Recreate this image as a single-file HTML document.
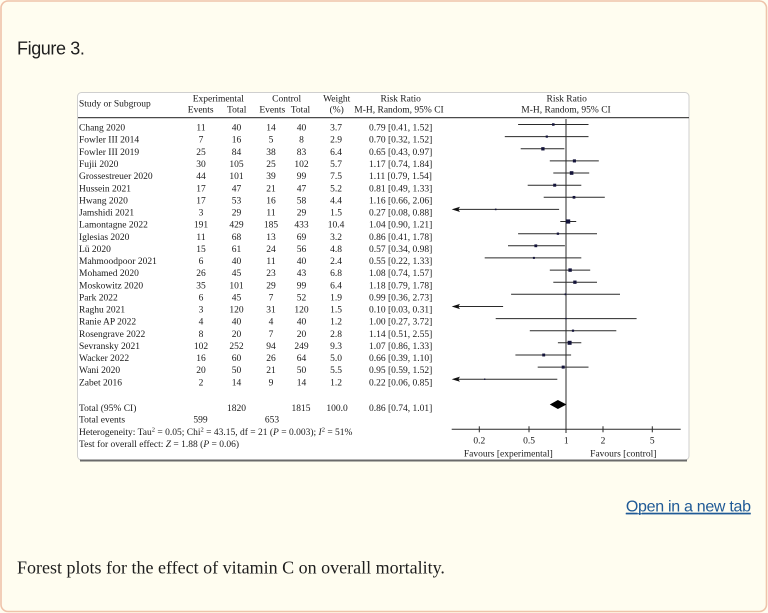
<!DOCTYPE html>
<html>
<head>
<meta charset="utf-8">
<style>
html,body{margin:0;padding:0;background:#fffdf0;}
body{width:768px;height:613px;overflow:hidden;position:relative;}
svg{position:absolute;left:0;top:0;}
</style>
</head>
<body>
<svg width="768" height="613" viewBox="0 0 768 613" xmlns="http://www.w3.org/2000/svg">
  <!-- outer card -->
  <rect x="1" y="1" width="765.5" height="610.5" rx="7" ry="7" fill="#fffdf0" stroke="#efc3aa" stroke-width="1.6"/>
  <text x="17" y="54.5" font-family="'Liberation Sans', sans-serif" font-size="18" letter-spacing="-0.4" fill="#1e1e1e">Figure 3.</text>

  <!-- inner figure frame -->
  <rect x="77.5" y="92.5" width="611.5" height="367.5" rx="4" ry="4" fill="#ffffff" stroke="#cfcfcf" stroke-width="1"/>
  <line x1="80" y1="460.5" x2="687" y2="460.5" stroke="#6a6a6a" stroke-width="2"/>
  <line x1="78" y1="117.6" x2="689" y2="117.6" stroke="#4a4a4a" stroke-width="1.2"/>

  <g font-family="'Liberation Serif', serif" font-size="9.5" fill="#1a1a1a">
    <!-- headers -->
    <text x="79" y="106.7">Study or Subgroup</text>
    <text x="218.3" y="101.7" text-anchor="middle">Experimental</text>
    <text x="200.7" y="112.7" text-anchor="middle">Events</text>
    <text x="236.7" y="112.7" text-anchor="middle">Total</text>
    <text x="286.7" y="101.7" text-anchor="middle">Control</text>
    <text x="272.3" y="112.7" text-anchor="middle">Events</text>
    <text x="300.5" y="112.7" text-anchor="middle">Total</text>
    <text x="336.7" y="101.7" text-anchor="middle">Weight</text>
    <text x="336.7" y="112.7" text-anchor="middle">(%)</text>
    <text x="400.7" y="101.7" text-anchor="middle">Risk Ratio</text>
    <text x="399" y="112.7" text-anchor="middle">M-H, Random, 95% CI</text>
    <text x="566.7" y="101.7" text-anchor="middle">Risk Ratio</text>
    <text x="566" y="112.7" text-anchor="middle">M-H, Random, 95% CI</text>

    <!-- study names -->
    <g>
      <text x="79" y="130.6">Chang 2020</text>
      <text x="79" y="142.7">Fowler III 2014</text>
      <text x="79" y="154.9">Fowler III 2019</text>
      <text x="79" y="167.0">Fujii 2020</text>
      <text x="79" y="179.1">Grossestreuer 2020</text>
      <text x="79" y="191.3">Hussein 2021</text>
      <text x="79" y="203.4">Hwang 2020</text>
      <text x="79" y="215.5">Jamshidi 2021</text>
      <text x="79" y="227.6">Lamontagne 2022</text>
      <text x="79" y="239.8">Iglesias 2020</text>
      <text x="79" y="251.9">Lü 2020</text>
      <text x="79" y="264.0">Mahmoodpoor 2021</text>
      <text x="79" y="276.2">Mohamed 2020</text>
      <text x="79" y="288.3">Moskowitz 2020</text>
      <text x="79" y="300.4">Park 2022</text>
      <text x="79" y="312.6">Raghu 2021</text>
      <text x="79" y="324.7">Ranie AP 2022</text>
      <text x="79" y="336.8">Rosengrave 2022</text>
      <text x="79" y="348.9">Sevransky 2021</text>
      <text x="79" y="361.1">Wacker 2022</text>
      <text x="79" y="373.2">Wani 2020</text>
      <text x="79" y="385.3">Zabet 2016</text>
    </g>

    <!-- experimental events -->
    <g text-anchor="middle">
      <text x="201" y="130.6">11</text>
      <text x="201" y="142.7">7</text>
      <text x="201" y="154.9">25</text>
      <text x="201" y="167.0">30</text>
      <text x="201" y="179.1">44</text>
      <text x="201" y="191.3">17</text>
      <text x="201" y="203.4">17</text>
      <text x="201" y="215.5">3</text>
      <text x="201" y="227.6">191</text>
      <text x="201" y="239.8">11</text>
      <text x="201" y="251.9">15</text>
      <text x="201" y="264.0">6</text>
      <text x="201" y="276.2">26</text>
      <text x="201" y="288.3">35</text>
      <text x="201" y="300.4">6</text>
      <text x="201" y="312.6">3</text>
      <text x="201" y="324.7">4</text>
      <text x="201" y="336.8">8</text>
      <text x="201" y="348.9">102</text>
      <text x="201" y="361.1">16</text>
      <text x="201" y="373.2">20</text>
      <text x="201" y="385.3">2</text>
    </g>
    <!-- experimental totals -->
    <g text-anchor="middle">
      <text x="236.5" y="130.6">40</text>
      <text x="236.5" y="142.7">16</text>
      <text x="236.5" y="154.9">84</text>
      <text x="236.5" y="167.0">105</text>
      <text x="236.5" y="179.1">101</text>
      <text x="236.5" y="191.3">47</text>
      <text x="236.5" y="203.4">53</text>
      <text x="236.5" y="215.5">29</text>
      <text x="236.5" y="227.6">429</text>
      <text x="236.5" y="239.8">68</text>
      <text x="236.5" y="251.9">61</text>
      <text x="236.5" y="264.0">40</text>
      <text x="236.5" y="276.2">45</text>
      <text x="236.5" y="288.3">101</text>
      <text x="236.5" y="300.4">45</text>
      <text x="236.5" y="312.6">120</text>
      <text x="236.5" y="324.7">40</text>
      <text x="236.5" y="336.8">20</text>
      <text x="236.5" y="348.9">252</text>
      <text x="236.5" y="361.1">60</text>
      <text x="236.5" y="373.2">50</text>
      <text x="236.5" y="385.3">14</text>
    </g>
    <!-- control events -->
    <g text-anchor="middle">
      <text x="271" y="130.6">14</text>
      <text x="271" y="142.7">5</text>
      <text x="271" y="154.9">38</text>
      <text x="271" y="167.0">25</text>
      <text x="271" y="179.1">39</text>
      <text x="271" y="191.3">21</text>
      <text x="271" y="203.4">16</text>
      <text x="271" y="215.5">11</text>
      <text x="271" y="227.6">185</text>
      <text x="271" y="239.8">13</text>
      <text x="271" y="251.9">24</text>
      <text x="271" y="264.0">11</text>
      <text x="271" y="276.2">23</text>
      <text x="271" y="288.3">29</text>
      <text x="271" y="300.4">7</text>
      <text x="271" y="312.6">31</text>
      <text x="271" y="324.7">4</text>
      <text x="271" y="336.8">7</text>
      <text x="271" y="348.9">94</text>
      <text x="271" y="361.1">26</text>
      <text x="271" y="373.2">21</text>
      <text x="271" y="385.3">9</text>
    </g>
    <!-- control totals -->
    <g text-anchor="middle">
      <text x="301.5" y="130.6">40</text>
      <text x="301.5" y="142.7">8</text>
      <text x="301.5" y="154.9">83</text>
      <text x="301.5" y="167.0">102</text>
      <text x="301.5" y="179.1">99</text>
      <text x="301.5" y="191.3">47</text>
      <text x="301.5" y="203.4">58</text>
      <text x="301.5" y="215.5">29</text>
      <text x="301.5" y="227.6">433</text>
      <text x="301.5" y="239.8">69</text>
      <text x="301.5" y="251.9">56</text>
      <text x="301.5" y="264.0">40</text>
      <text x="301.5" y="276.2">43</text>
      <text x="301.5" y="288.3">99</text>
      <text x="301.5" y="300.4">52</text>
      <text x="301.5" y="312.6">120</text>
      <text x="301.5" y="324.7">40</text>
      <text x="301.5" y="336.8">20</text>
      <text x="301.5" y="348.9">249</text>
      <text x="301.5" y="361.1">64</text>
      <text x="301.5" y="373.2">50</text>
      <text x="301.5" y="385.3">14</text>
    </g>
    <!-- weights -->
    <g text-anchor="middle">
      <text x="336" y="130.6">3.7</text>
      <text x="336" y="142.7">2.9</text>
      <text x="336" y="154.9">6.4</text>
      <text x="336" y="167.0">5.7</text>
      <text x="336" y="179.1">7.5</text>
      <text x="336" y="191.3">5.2</text>
      <text x="336" y="203.4">4.4</text>
      <text x="336" y="215.5">1.5</text>
      <text x="336" y="227.6">10.4</text>
      <text x="336" y="239.8">3.2</text>
      <text x="336" y="251.9">4.8</text>
      <text x="336" y="264.0">2.4</text>
      <text x="336" y="276.2">6.8</text>
      <text x="336" y="288.3">6.4</text>
      <text x="336" y="300.4">1.9</text>
      <text x="336" y="312.6">1.5</text>
      <text x="336" y="324.7">1.2</text>
      <text x="336" y="336.8">2.8</text>
      <text x="336" y="348.9">9.3</text>
      <text x="336" y="361.1">5.0</text>
      <text x="336" y="373.2">5.5</text>
      <text x="336" y="385.3">1.2</text>
    </g>
    <!-- risk ratios -->
    <g>
      <text x="369" y="130.6">0.79 [0.41, 1.52]</text>
      <text x="369" y="142.7">0.70 [0.32, 1.52]</text>
      <text x="369" y="154.9">0.65 [0.43, 0.97]</text>
      <text x="369" y="167.0">1.17 [0.74, 1.84]</text>
      <text x="369" y="179.1">1.11 [0.79, 1.54]</text>
      <text x="369" y="191.3">0.81 [0.49, 1.33]</text>
      <text x="369" y="203.4">1.16 [0.66, 2.06]</text>
      <text x="369" y="215.5">0.27 [0.08, 0.88]</text>
      <text x="369" y="227.6">1.04 [0.90, 1.21]</text>
      <text x="369" y="239.8">0.86 [0.41, 1.78]</text>
      <text x="369" y="251.9">0.57 [0.34, 0.98]</text>
      <text x="369" y="264.0">0.55 [0.22, 1.33]</text>
      <text x="369" y="276.2">1.08 [0.74, 1.57]</text>
      <text x="369" y="288.3">1.18 [0.79, 1.78]</text>
      <text x="369" y="300.4">0.99 [0.36, 2.73]</text>
      <text x="369" y="312.6">0.10 [0.03, 0.31]</text>
      <text x="369" y="324.7">1.00 [0.27, 3.72]</text>
      <text x="369" y="336.8">1.14 [0.51, 2.55]</text>
      <text x="369" y="348.9">1.07 [0.86, 1.33]</text>
      <text x="369" y="361.1">0.66 [0.39, 1.10]</text>
      <text x="369" y="373.2">0.95 [0.59, 1.52]</text>
      <text x="369" y="385.3">0.22 [0.06, 0.85]</text>
    </g>

    <!-- totals -->
    <text x="79" y="411">Total (95% CI)</text>
    <text x="236.5" y="411" text-anchor="middle">1820</text>
    <text x="301" y="411" text-anchor="middle">1815</text>
    <text x="337" y="411" text-anchor="middle">100.0</text>
    <text x="369" y="411">0.86 [0.74, 1.01]</text>
    <text x="79" y="422.5">Total events</text>
    <text x="200.5" y="422.5" text-anchor="middle">599</text>
    <text x="272" y="422.5" text-anchor="middle">653</text>
    <text x="79" y="435">Heterogeneity: Tau<tspan dy="-3.5" font-size="6.5">2</tspan><tspan dy="3.5"> = 0.05; Chi</tspan><tspan dy="-3.5" font-size="6.5">2</tspan><tspan dy="3.5"> = 43.15, df = 21 (</tspan><tspan font-style="italic">P</tspan><tspan> = 0.003); </tspan><tspan font-style="italic">I</tspan><tspan dy="-3.5" font-size="6.5">2</tspan><tspan dy="3.5"> = 51%</tspan></text>
    <text x="79" y="446.8">Test for overall effect: <tspan font-style="italic">Z</tspan> = 1.88 (<tspan font-style="italic">P</tspan> = 0.06)</text>

    <!-- axis labels -->
    <g text-anchor="middle">
      <text x="479.3" y="443.3">0.2</text>
      <text x="529" y="443.3">0.5</text>
      <text x="566.3" y="443.3">1</text>
      <text x="603" y="443.3">2</text>
      <text x="652.3" y="443.3">5</text>
      <text x="508.3" y="456.5">Favours [experimental]</text>
      <text x="623.3" y="456.5">Favours [control]</text>
    </g>
  </g>

  <!-- forest plot -->
  <g stroke="#2a2a2a" stroke-width="1" fill="none">
    <line x1="566" y1="119" x2="566" y2="433"/>
    <line x1="451.7" y1="429.3" x2="680.7" y2="429.3"/>
    <line x1="479.3" y1="426.3" x2="479.3" y2="432.3"/>
    <line x1="529" y1="426.3" x2="529" y2="432.3"/>
    <line x1="603" y1="426.3" x2="603" y2="432.3"/>
    <line x1="652.3" y1="426.3" x2="652.3" y2="432.3"/>

    <line x1="518.1" y1="124.5" x2="588.5" y2="124.5"/>
    <line x1="504.8" y1="136.6" x2="588.5" y2="136.6"/>
    <line x1="520.7" y1="148.8" x2="564.4" y2="148.8"/>
    <line x1="549.8" y1="160.9" x2="598.8" y2="160.9"/>
    <line x1="553.3" y1="173.0" x2="589.2" y2="173.0"/>
    <line x1="527.7" y1="185.2" x2="581.3" y2="185.2"/>
    <line x1="543.7" y1="197.3" x2="604.8" y2="197.3"/>
    <line x1="456" y1="209.4" x2="559.1" y2="209.4"/>
    <line x1="560.3" y1="221.5" x2="576.2" y2="221.5"/>
    <line x1="518.1" y1="233.7" x2="597.0" y2="233.7"/>
    <line x1="508.0" y1="245.8" x2="564.9" y2="245.8"/>
    <line x1="484.7" y1="257.9" x2="581.3" y2="257.9"/>
    <line x1="549.8" y1="270.1" x2="590.2" y2="270.1"/>
    <line x1="553.3" y1="282.2" x2="597.0" y2="282.2"/>
    <line x1="511.1" y1="294.3" x2="620.0" y2="294.3"/>
    <line x1="456" y1="306.5" x2="503.1" y2="306.5"/>
    <line x1="495.7" y1="318.6" x2="636.6" y2="318.6"/>
    <line x1="529.8" y1="330.7" x2="616.3" y2="330.7"/>
    <line x1="557.9" y1="342.8" x2="581.3" y2="342.8"/>
    <line x1="515.4" y1="355.0" x2="571.1" y2="355.0"/>
    <line x1="537.7" y1="367.1" x2="588.5" y2="367.1"/>
    <line x1="456" y1="379.2" x2="557.3" y2="379.2"/>
  </g>

  <!-- arrow heads -->
  <g fill="#111">
    <polygon points="451.7,209.4 460,206.8 458.3,209.4 460,212"/>
    <polygon points="451.7,306.5 460,303.9 458.3,306.5 460,309.1"/>
    <polygon points="451.7,379.2 460,376.6 458.3,379.2 460,381.8"/>
  </g>

  <!-- point estimate boxes -->
  <g fill="#14143a">
    <rect x="552.05" y="123.25" width="2.5" height="2.5"/>
    <rect x="545.7" y="135.5" width="2.2" height="2.2"/>
    <rect x="541.25" y="147.15" width="3.3" height="3.3"/>
    <rect x="572.85" y="159.35" width="3.1" height="3.1"/>
    <rect x="569.8" y="171.2" width="3.6" height="3.6"/>
    <rect x="553.2" y="183.7" width="3.0" height="3.0"/>
    <rect x="572.65" y="195.95" width="2.7" height="2.7"/>
    <rect x="494.9" y="208.6" width="1.6" height="1.6"/>
    <rect x="566.0" y="219.4" width="4.2" height="4.2"/>
    <rect x="556.75" y="232.55" width="2.3" height="2.3"/>
    <rect x="534.4" y="244.4" width="2.8" height="2.8"/>
    <rect x="532.9" y="256.9" width="2.0" height="2.0"/>
    <rect x="568.4" y="268.4" width="3.4" height="3.4"/>
    <rect x="573.25" y="280.55" width="3.3" height="3.3"/>
    <rect x="564.6" y="293.4" width="1.8" height="1.8"/>
    <rect x="565.3" y="317.9" width="1.4" height="1.4"/>
    <rect x="571.9" y="329.6" width="2.2" height="2.2"/>
    <rect x="567.6" y="340.8" width="4.0" height="4.0"/>
    <rect x="542.25" y="353.55" width="2.9" height="2.9"/>
    <rect x="561.7" y="365.6" width="3.0" height="3.0"/>
    <rect x="484.0" y="378.5" width="1.4" height="1.4"/>
  </g>

  <!-- summary diamond -->
  <polygon points="549.8,404.5 557.9,400 566.5,404.5 557.9,409" fill="#000"/>

  <!-- link and caption -->
  <text x="750.7" y="511.7" text-anchor="end" font-family="'Liberation Sans', sans-serif" font-size="16" letter-spacing="-0.3" fill="#205a96" text-decoration="underline">Open in a new tab</text>
  <line x1="625.7" y1="513.8" x2="750.7" y2="513.8" stroke="#205a96" stroke-width="1"/>
  <text x="17" y="573.3" font-family="'Liberation Serif', serif" font-size="18" fill="#1e1e1e">Forest plots for the effect of vitamin C on overall mortality.</text>
</svg>
</body>
</html>
